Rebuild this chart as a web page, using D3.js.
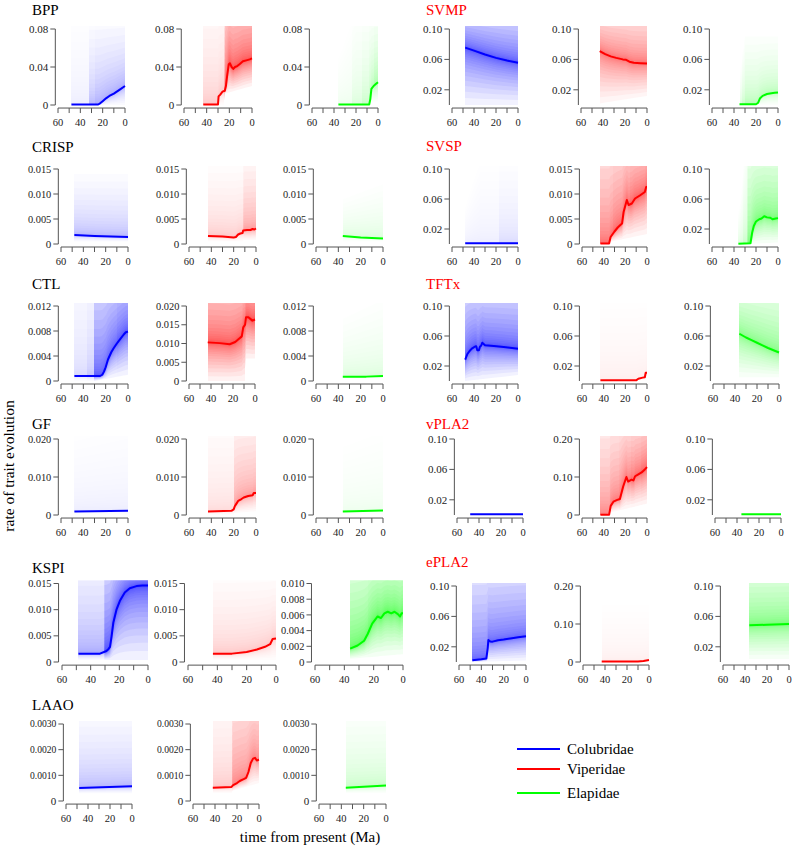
<!DOCTYPE html>
<html><head><meta charset="utf-8">
<script src="https://cdn.jsdelivr.net/npm/d3@7"></script>
<style>body{margin:0;background:#fff}svg{display:block}</style>
</head><body><svg id="c" width="792" height="846"></svg>
<script>
// ---------------- DATA ----------------
const families = ["Colubridae", "Viperidae", "Elapidae"];
const familyColors = ["#0000ff", "#ff0000", "#00ff00"];
const xTickValues = [60, 50, 40, 30, 20, 10, 0];
const xTickLabels = [60, 40, 20, 0];

const toxinNames = ["BPP","SVMP","CRISP","SVSP","CTL","TFTx","GF","vPLA2","KSPI","ePLA2","LAAO"];
const titleIsRed = [false,true,false,true,false,true,false,true,false,true,false];

// y tick labels per toxin, per family (as printed)
const yTicksBPP   = [["0","0.04","0.08"],["0","0.04","0.08"],["0","0.04","0.08"]];
const yTicksSVMP  = [["0.02","0.06","0.10"],["0.02","0.06","0.10"],["0.02","0.06","0.10"]];
const yTicksCRISP = [["0","0.005","0.010","0.015"],["0","0.005","0.010","0.015"],["0","0.005","0.010","0.015"]];
const yTicksSVSP  = [["0.02","0.06","0.10"],["0","0.005","0.010","0.015"],["0.02","0.06","0.10"]];
const yTicksCTL   = [["0","0.004","0.008","0.012"],["0","0.005","0.010","0.015","0.020"],["0","0.004","0.008","0.012"]];
const yTicksTFTx  = [["0.02","0.06","0.10"],["0.02","0.06","0.10"],["0.02","0.06","0.10"]];
const yTicksGF    = [["0","0.010","0.020"],["0","0.010","0.020"],["0","0.010","0.020"]];
const yTicksVPLA2 = [["0.02","0.06","0.10"],["0","0.10","0.20"],["0.02","0.06","0.10"]];
const yTicksKSPI  = [["0","0.005","0.010","0.015"],["0","0.005","0.010","0.015"],["0","0.002","0.004","0.006","0.008","0.010"]];
const yTicksEPLA2 = [["0.02","0.06","0.10"],["0","0.10","0.20"],["0.02","0.06","0.10"]];
const yTicksLAAO  = [["0","0.0010","0.0020","0.0030"],["0","0.0010","0.0020","0.0030"],["0","0.0010","0.0020","0.0030"]];

// median rate through time: [time (Ma), rate]
const medBPP = [
  [[48,0.0005],[24,0.0005],[22,0.002],[20,0.004],[17,0.007],[14,0.0095],[10,0.012],[5,0.016],[0,0.020]],
  [[43,0.0005],[30,0.0005],[29.5,0.009],[28,0.011],[26,0.014],[24,0.015],[23,0.02],[22,0.03],[20.5,0.043],[19.5,0.044],[18,0.040],[16.5,0.038],[15,0.040],[13,0.041],[11,0.043],[8,0.046],[5,0.047],[2,0.048],[0,0.049]],
  [[36,0.0005],[8,0.0005],[7,0.006],[6,0.017],[4,0.020],[2,0.022],[0,0.024]]
];
const medSVMP = [
  [[48,0.0755],[40,0.0715],[30,0.0665],[20,0.062],[10,0.0585],[0,0.0555]],
  [[43,0.071],[38,0.067],[33,0.064],[28,0.062],[22,0.060],[19,0.0595],[16,0.057],[12,0.0555],[6,0.055],[0,0.0545]],
  [[35,0.001],[20,0.001],[18,0.003],[16.5,0.0085],[14,0.012],[10,0.0145],[6,0.0155],[3,0.016],[0,0.0165]]
];
const medCRISP = [
  [[48,0.0018],[30,0.0016],[15,0.0015],[0,0.0014]],
  [[43,0.0016],[30,0.0015],[20,0.0013],[18,0.0014],[16,0.0019],[14,0.0021],[12,0.0022],[11.5,0.0027],[8,0.0028],[5,0.0028],[3,0.0030],[1.5,0.0029],[0,0.0031]],
  [[36,0.0016],[20,0.0013],[0,0.0011]]
];
const medSVSP = [
  [[48,0.001],[0,0.001]],
  [[43,0.0001],[35,0.0001],[33.6,0.0014],[30,0.0025],[27,0.0033],[24.6,0.0038],[23,0.0041],[21.6,0.0064],[18.6,0.0088],[17,0.0078],[14,0.0081],[11,0.0091],[6.6,0.0097],[2,0.0104],[0.8,0.0114],[0,0.0114]],
  [[36,0.0004],[25,0.001],[23.5,0.015],[22,0.024],[20,0.030],[17,0.033],[15,0.034],[12.5,0.037],[10,0.0355],[7,0.035],[5,0.033],[2,0.034],[0,0.0345]]
];
const medCTL = [
  [[48,0.0008],[30,0.0008],[25,0.0008],[23,0.001],[21.5,0.0015],[20,0.0022],[18,0.0034],[15,0.0046],[13,0.0052],[10,0.0060],[7,0.0067],[4,0.0074],[2,0.0078],[0,0.0079]],
  [[43,0.0103],[32,0.0101],[23,0.0098],[18,0.0104],[14,0.0114],[12,0.0119],[10.7,0.0143],[9,0.0150],[8.2,0.0170],[6,0.0170],[4,0.0165],[2.4,0.0161],[0,0.0164]],
  [[36,0.0007],[15,0.0007],[0,0.0008]]
];
const medTFTx = [
  [[48,0.0284],[46,0.036],[44,0.040],[42,0.0431],[39,0.046],[38,0.0462],[37,0.041],[35.5,0.041],[34.5,0.046],[33.5,0.047],[32.5,0.051],[31,0.049],[30,0.0476],[22,0.0467],[13,0.0453],[0,0.0431]],
  [[43,0.0009],[10,0.0009],[8,0.003],[4,0.0045],[2,0.005],[1.2,0.011],[0,0.011]],
  [[36,0.063],[30,0.058],[25,0.0545],[20,0.051],[15,0.0475],[10,0.044],[5,0.041],[0,0.038]]
];
const medGF = [
  [[48,0.0009],[0,0.0011]],
  [[43,0.0009],[22,0.0011],[20,0.0015],[19,0.0023],[17.5,0.0030],[16,0.0037],[13,0.0042],[11,0.0046],[7,0.0050],[3,0.0052],[2,0.0058],[0,0.0058]],
  [[36,0.0009],[0,0.0012]]
];
const medVPLA2 = [
  [[48,0.001],[0,0.001]],
  [[43,0.0005],[35,0.0005],[33.5,0.024],[31,0.035],[28,0.039],[25,0.042],[22,0.075],[19,0.100],[17.4,0.088],[14.3,0.093],[12.5,0.091],[11,0.102],[8,0.107],[5,0.112],[2,0.120],[0,0.126]],
  [[36,0.001],[0,0.001]]
];
const medKSPI = [
  [[48.5,0.0016],[40,0.0016],[33.5,0.0016],[29,0.0021],[27.5,0.0025],[26.5,0.0029],[25.4,0.0049],[24.2,0.0075],[22,0.0100],[19.6,0.0117],[16.2,0.0133],[12.7,0.0141],[8,0.0145],[4,0.0146],[0,0.0146]],
  [[43,0.0016],[30,0.0016],[20,0.0019],[13,0.0024],[7.5,0.0029],[4,0.0034],[2.3,0.0044],[0,0.0045]],
  [[36,0.0017],[31,0.0021],[26.5,0.0027],[24,0.0036],[21,0.0049],[17.3,0.0058],[15,0.0056],[12.7,0.0062],[10.4,0.0064],[8,0.0062],[5.8,0.0064],[3.5,0.0061],[2,0.0058],[1,0.0062],[0,0.0062]]
];
const medEPLA2 = [
  [[48,0.0024],[40,0.0035],[35.5,0.0046],[34.3,0.018],[33.7,0.029],[32,0.027],[30,0.0268],[25,0.0285],[20,0.0295],[14,0.031],[7,0.0325],[0,0.034]],
  [[43,0.001],[20,0.001],[10,0.0015],[5,0.0025],[0,0.005]],
  [[36,0.0483],[20,0.049],[0,0.050]]
];
const medLAAO = [
  [[48,0.00051],[0,0.00057]],
  [[42,0.00052],[25,0.00055],[23.5,0.00062],[20,0.00070],[17.5,0.00078],[14,0.00085],[11.7,0.00090],[9.6,0.00113],[7.5,0.00148],[5.4,0.00165],[3.6,0.00168],[2,0.00158],[0,0.00161]],
  [[36,0.00052],[0,0.00060]]
];

// posterior spread: [time (Ma), low rate, high rate, density weight]
const bandBPP = [
  [[48,0,0.10,0.06],[32,0,0.10,0.07],[31.9,0,0.09,0.3],[0,0,0.09,0.4]],
  [[43,0,0.12,0.2],[24.5,0,0.12,0.22],[24,0.012,0.14,0.9],[0,0.020,0.14,0.9]],
  [[36,0,0.05,0.04],[20,0,0.10,0.12],[0,0.004,0.10,0.35]]
];
const bandSVMP = [
  [[48,0,0.14,0.9],[0,0,0.14,0.9]],
  [[43,0.002,0.14,0.7],[0,0.012,0.14,0.7]],
  [[35,0,0.04,0.1],[30,0,0.09,0.25],[0,0,0.09,0.3]]
];
const bandCRISP = [
  [[48,0.0005,0.014,0.3],[0,0.0005,0.014,0.3]],
  [[43,0.0005,0.016,0.18],[12,0.0005,0.016,0.2],[11,0.0008,0.018,0.4],[0,0.0008,0.018,0.4]],
  [[36,0.0005,0.009,0.13],[0,0.0005,0.012,0.15]]
];
const bandSVSP = [
  [[48,0,0.05,0.05],[35,0,0.11,0.08],[0,0,0.11,0.12]],
  [[43,0,0.026,0.7],[0,0.002,0.026,0.9]],
  [[36,0,0.04,0.1],[28,0,0.15,0.25],[27.5,0,0.15,0.65],[0,0.002,0.15,0.65]]
];
const bandCTL = [
  [[48,0,0.022,0.15],[30.5,0,0.022,0.2],[30,0,0.022,0.85],[0,0.001,0.022,0.9]],
  [[43,0.0,0.035,0.9],[9,0.0,0.035,0.9],[8.5,0.006,0.035,1],[0,0.006,0.035,1]],
  [[36,0.0004,0.010,0.1],[0,0.0004,0.013,0.12]]
];
const bandTFTx = [
  [[48,0,0.15,0.95],[0,0.008,0.15,0.95]],
  [[43,0,0.11,0.07],[0,0,0.11,0.1]],
  [[36,0.005,0.15,0.6],[0,0.005,0.15,0.6]]
];
const bandGF = [
  [[48,0,0.022,0.06],[0,0,0.026,0.08]],
  [[43,0,0.026,0.1],[20,0,0.026,0.12],[19.5,0.0005,0.028,0.4],[0,0.001,0.028,0.45]],
  [[36,0,0.018,0.05],[0,0,0.022,0.06]]
];
const bandVPLA2 = [
  [[48,0,0.09,0.03],[0,0,0.11,0.04]],
  [[43,0,0.3,0.55],[0,0.03,0.3,0.85]],
  [[36,0,0.09,0.03],[0,0,0.11,0.04]]
];
const bandKSPI = [
  [[48.5,0.0004,0.024,0.35],[31,0.0004,0.024,0.4],[30,0.0004,0.024,1],[0,0.0004,0.024,1]],
  [[43,0.0004,0.017,0.18],[0,0.0004,0.017,0.25]],
  [[36,0.0004,0.016,0.8],[0,0.001,0.016,0.85]]
];
const bandEPLA2 = [
  [[48,0,0.15,0.75],[0,0.002,0.15,0.8]],
  [[43,0,0.15,0.04],[0,0,0.15,0.06]],
  [[36,0.004,0.15,0.65],[0,0.004,0.15,0.65]]
];
const bandLAAO = [
  [[48,0.0003,0.0036,0.3],[0,0.0003,0.0036,0.3]],
  [[42,0.0003,0.0045,0.18],[24.5,0.0003,0.0045,0.2],[24,0.0004,0.0055,0.55],[0,0.0007,0.0055,0.6]],
  [[36,0.0003,0.0036,0.22],[0,0.0003,0.0036,0.25]]
];

const legendLabels = families;

// ---------------- LAYOUT ----------------
const layout = {
  BPP:   {top:29,  zero:105, xs:[[58,125],[184,252],[312,378]], tx:32,  ty:15},
  SVMP:  {top:29,  zero:105, xs:[[452,518],[581,647],[712,778]], tx:426, ty:15},
  CRISP: {top:169, zero:244, xs:[[61,128],[189,256],[316,383]], tx:32,  ty:152},
  SVSP:  {top:169, zero:244, xs:[[452,518],[582,647],[712,778]], tx:426, ty:151},
  CTL:   {top:306, zero:381, xs:[[61,128],[189,255],[316,383]], tx:32,  ty:289},
  TFTx:  {top:306, zero:381, xs:[[452,518],[582,647],[713,779]], tx:426, ty:289},
  GF:    {top:439, zero:515, xs:[[61,128],[189,256],[316,383]], tx:32,  ty:429},
  vPLA2: {top:439, zero:515, xs:[[457,523],[582,647],[715,781]], tx:426, ty:429},
  KSPI:  {top:583.5, zero:662, xs:[[62,148],[188,276],[315,403]], tx:32, ty:573},
  ePLA2: {top:586, zero:662, xs:[[459,526],[583,649],[723,789]], tx:426, ty:567},
  LAAO:  {top:724, zero:801, xs:[[66,132],[193,259],[319,386]], tx:32,  ty:710}
};

const meds  = [medBPP,medSVMP,medCRISP,medSVSP,medCTL,medTFTx,medGF,medVPLA2,medKSPI,medEPLA2,medLAAO];
const bands = [bandBPP,bandSVMP,bandCRISP,bandSVSP,bandCTL,bandTFTx,bandGF,bandVPLA2,bandKSPI,bandEPLA2,bandLAAO];
const ticks = [yTicksBPP,yTicksSVMP,yTicksCRISP,yTicksSVSP,yTicksCTL,yTicksTFTx,yTicksGF,yTicksVPLA2,yTicksKSPI,yTicksEPLA2,yTicksLAAO];

const FONT = "'Liberation Serif','Times New Roman',serif";
const AXIS_COL = "#555";
const svg = d3.select("#c");
const defs = svg.append("defs");

function interp(pts, t, idx) {
  if (t >= pts[0][0]) return pts[0][idx];
  for (let i = 1; i < pts.length; i++) {
    if (t >= pts[i][0]) {
      const a = pts[i-1], b = pts[i];
      const f = (a[0] - t) / (a[0] - b[0]);
      return a[idx] + (b[idx] - a[idx]) * f;
    }
  }
  return pts[pts.length-1][idx];
}
function yLabelSize(s) { return s.length <= 4 ? 11 : s.length === 5 ? 10.4 : 9.6; }

const K = 24, POW = 3, LAYER_OP = 0.055;
let gid = 0;
toxinNames.forEach((name, ti) => {
  const L = layout[name];
  svg.append("text").attr("x", L.tx).attr("y", L.ty)
    .attr("font-family", FONT).attr("font-size", 15)
    .attr("fill", titleIsRed[ti] ? "#ff0000" : "#000").text(name);

  for (let fi = 0; fi < 3; fi++) {
    const med = meds[ti][fi], band = bands[ti][fi];
    const ytLabels = ticks[ti][fi], yt = ytLabels.map(Number);
    const col = familyColors[fi];
    const ymax = yt[yt.length-1];
    const x = d3.scaleLinear().domain([60, 0]).range(L.xs[fi]);
    const y = d3.scaleLinear().domain([0, ymax]).range([L.zero, L.top]);
    const left = x(62.4), right = x(-2.4), top = y(ymax*1.04), bottom = y(-0.04*ymax);

    const g = svg.append("g");
    const cid = "clip" + (gid++);
    defs.append("clipPath").attr("id", cid).append("rect")
      .attr("x", left).attr("y", top).attr("width", right-left).attr("height", bottom-top);

    const segs = [];
    for (let i = 1; i < band.length; i++) {
      const a = band[i-1], b = band[i];
      const n = Math.max(1, Math.ceil(Math.abs(b[3] - a[3]) / 0.02));
      for (let j = 0; j < n; j++) {
        const t0 = a[0] + (b[0] - a[0]) * j / n, t1 = a[0] + (b[0] - a[0]) * (j + 1) / n;
        segs.push([t0, t1, interp(band, (t0 + t1) / 2, 3)]);
      }
    }
    const allTimes = Array.from(new Set(med.map(d=>d[0]).concat(band.map(d=>d[0])))).sort((a,b)=>b-a);

    const layerG = g.append("g").attr("clip-path", `url(#${cid})`).attr("fill", col);
    segs.forEach(([t0, t1, w]) => {
      const px0 = Math.round(x(t0)), px1 = Math.round(x(t1));
      if (px1 <= px0) return;
      const ts = [t0].concat(allTimes.filter(t => t < t0 && t > t1), [t1]);
      const segG = layerG.append("g").attr("fill-opacity", LAYER_OP * w);
      const xp = t => (t === t0 ? px0 : t === t1 ? px1 : Math.min(px1, Math.max(px0, x(t))));
      for (let k = 1; k <= K; k++) {
        const f = Math.pow(k / K, POW);
        const area = d3.area()
          .x(xp)
          .y0(t => { const m = interp(med, t, 1); return y(m + (interp(band, t, 1) - m) * f); })
          .y1(t => { const m = interp(med, t, 1); return y(m + (interp(band, t, 2) - m) * f); });
        segG.append("path").attr("d", area(ts));
      }
    });

    g.append("path").datum(med)
      .attr("d", d3.line().x(d => x(d[0])).y(d => y(d[1])))
      .attr("fill", "none").attr("stroke", col).attr("stroke-width", 2)
      .attr("stroke-linejoin", "round");

    const ya = g.append("g");
    ya.append("line").attr("x1", left).attr("x2", left)
      .attr("y1", y(0)).attr("y2", y(ymax)).attr("stroke", AXIS_COL).attr("stroke-width", 1);
    yt.forEach((v, i) => {
      ya.append("line").attr("x1", left-5).attr("x2", left).attr("y1", y(v)).attr("y2", y(v))
        .attr("stroke", AXIS_COL);
      ya.append("text").attr("x", left-7).attr("y", y(v)).attr("dy", "0.35em")
        .attr("text-anchor", "end").attr("font-family", FONT).attr("font-size", yLabelSize(ytLabels[i]))
        .attr("fill", "#222").text(ytLabels[i]);
    });
    const xa = g.append("g");
    xa.append("line").attr("x1", x(60)).attr("x2", x(0)).attr("y1", bottom).attr("y2", bottom)
      .attr("stroke", AXIS_COL);
    xTickValues.forEach(v => {
      xa.append("line").attr("x1", x(v)).attr("x2", x(v)).attr("y1", bottom).attr("y2", bottom+5)
        .attr("stroke", AXIS_COL);
    });
    xTickLabels.forEach(v => {
      xa.append("text").attr("x", x(v)).attr("y", bottom+18).attr("text-anchor", "middle")
        .attr("font-family", FONT).attr("font-size", 10.5).attr("fill", "#222").text(v);
    });
  }
});

svg.append("text").attr("transform", "translate(14,466) rotate(-90)")
  .attr("text-anchor", "middle").attr("font-family", FONT).attr("font-size", 15.5)
  .text("rate of trait evolution");
svg.append("text").attr("x", 310).attr("y", 842).attr("text-anchor", "middle")
  .attr("font-family", FONT).attr("font-size", 15).text("time from present (Ma)");

legendLabels.forEach((lab, i) => {
  const yy = [749, 769, 793][i];
  svg.append("line").attr("x1", 517).attr("x2", 560).attr("y1", yy).attr("y2", yy)
    .attr("stroke", familyColors[i]).attr("stroke-width", 2);
  svg.append("text").attr("x", 567).attr("y", yy + 5).attr("font-family", FONT)
    .attr("font-size", 15).text(lab);
});
</script>
</body></html>
